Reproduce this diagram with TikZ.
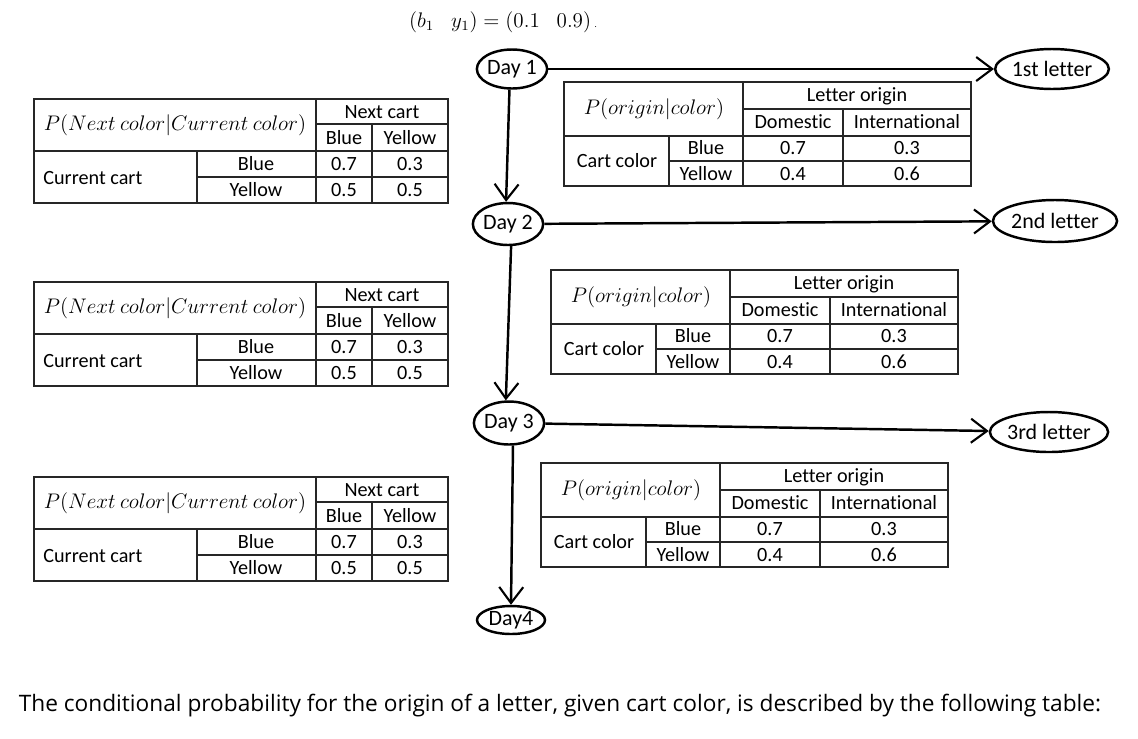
\documentclass[tikz,border=0pt]{standalone}
\usepackage{fontspec}
\setmainfont{Carlito}[Ligatures=NoCommon]
\newfontfamily\capfont{Open Sans}
\usepackage{tikz}
\usetikzlibrary{shapes.geometric,arrows.meta}

% cart colour transition table: name, left, top
\newcommand{\carttable}[3]{%
  \begin{scope}[shift={(#2,#3)}]
    \draw[tab] (0,0) rectangle (414,104);
    \draw[tab] (0,52) -- (414,52) (282,25) -- (414,25) (163,78) -- (414,78)
      (282,0) -- (282,104) (338,25) -- (338,104) (163,52) -- (163,104);
    \node[cell] (#1-p) at (141,26) {$P(Next\ color|Current\ color)$};
    \node[cell] (#1-next) at (348,13) {Next cart};
    \node[cell] (#1-nb) at (310,39) {Blue};
    \node[cell] (#1-ny) at (376,39) {Yellow};
    \node[cell, anchor=west] (#1-cur) at (9,79) {Current cart};
    \node[cell] (#1-cb) at (222,65) {Blue};
    \node[cell] (#1-cy) at (222,91) {Yellow};
    \node[cell] (#1-bb) at (310,65) {0.7};
    \node[cell] (#1-by) at (376,65) {0.3};
    \node[cell] (#1-yb) at (310,91) {0.5};
    \node[cell] (#1-yy) at (376,91) {0.5};
  \end{scope}}

% letter origin table: name, left, top
\newcommand{\origintable}[3]{%
  \begin{scope}[shift={(#2,#3)}]
    \draw[tab] (0,0) rectangle (407,104);
    \draw[tab] (0,54) -- (407,54) (179,27) -- (407,27) (105,79) -- (407,79)
      (179,0) -- (179,104) (279,27) -- (279,104) (105,54) -- (105,104);
    \node[cell] (#1-p) at (90,27) {$P(origin|color)$};
    \node[cell] (#1-org) at (293,14) {Letter origin};
    \node[cell] (#1-dom) at (229,40) {Domestic};
    \node[cell] (#1-int) at (343,40) {International};
    \node[cell] (#1-cart) at (53,79) {Cart color};
    \node[cell] (#1-cb) at (142,66) {Blue};
    \node[cell] (#1-cy) at (142,92) {Yellow};
    \node[cell] (#1-bd) at (229,66) {0.7};
    \node[cell] (#1-bi) at (343,66) {0.3};
    \node[cell] (#1-yd) at (229,92) {0.4};
    \node[cell] (#1-yi) at (343,92) {0.6};
  \end{scope}}

\begin{document}
\begin{tikzpicture}[x=0.02cm, y=-0.02cm,
    tab/.style={line width=0.6pt, black!85},
    cell/.style={inner sep=0pt, font=\fontsize{11.5}{13}\selectfont},
    state/.style={ellipse, draw, line width=1.4pt, inner sep=0pt,
      font=\fontsize{12.5}{14}\selectfont},
    >={Straight Barb[length=3.2mm, width=4.8mm, line width=1.2pt]}]
    \useasboundingbox (0,0) rectangle (1138,738);

    \node (vec) at (503,22) {\fontsize{12}{14}\selectfont $(b_1\hspace{0.8em}y_1)=(0.1\hspace{0.8em}0.9)$\,{\tiny .}};

    \node[state, minimum width=1.40cm, minimum height=0.78cm] (day1) at (512,69) {Day 1};
    \node[state, minimum width=1.32cm, minimum height=0.84cm] (day2) at (508,224) {Day 2};
    \node[state, minimum width=1.30cm, minimum height=0.86cm] (day3) at (509,423) {Day 3};
    \node[state, minimum width=1.36cm, minimum height=0.56cm] (day4) at (511,620) {Day4};
    \node[state, minimum width=1.96cm, minimum height=0.80cm] (let1) at (1052,69) {1st letter};
    \node[state, minimum width=2.04cm, minimum height=0.84cm] (let2) at (1055,221) {2nd letter};
    \node[state, minimum width=2.00cm, minimum height=0.80cm] (let3) at (1049,432) {3rd letter};

    \path[->, line width=1.4pt]
        (day1) edge (let1)
        (day2) edge (let2)
        (day3) edge (let3)
        (day1.263) edge (day2.95)
        (day2.278) edge (day3.98)
        (day3.280) edge (day4.north)
    ;

    \carttable{ct1}{34}{99}
    \carttable{ct2}{34}{282}
    \carttable{ct3}{34}{477}

    \origintable{ot1}{564}{82}
    \origintable{ot2}{551}{270}
    \origintable{ot3}{541}{463}

    \node (caption) at (560,706) {\capfont\fontsize{12.9}{15}\selectfont The conditional probability for the origin of a letter, given cart color, is described by the following table:};
\end{tikzpicture}
\end{document}
